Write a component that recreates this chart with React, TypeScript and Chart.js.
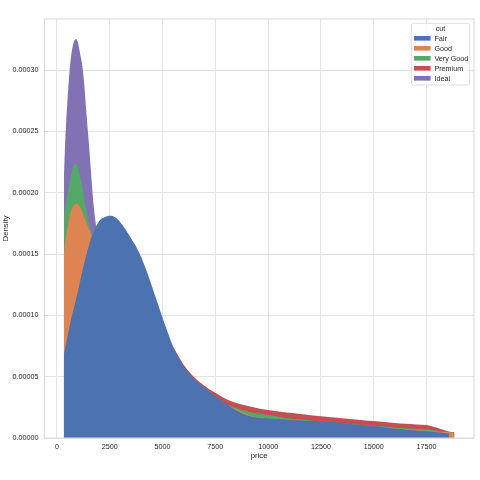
import { useEffect, useRef } from 'react';
import { Chart, registerables } from 'chart.js';

Chart.register(...registerables);

const CUTS = ['Fair', 'Good', 'Very Good', 'Premium', 'Ideal'];
const COLORS = ['#4C72B0', '#DD8452', '#55A868', '#C44E52', '#8172B3'];

// shared price grid (the last value of every series sits at that cut's own max price)
const PRICE = [
  326, 400, 500, 600, 700, 800, 900, 1000, 1100, 1200, 1300, 1400, 1500, 1600, 1700, 1800, 1900, 2000,
  2250, 2500, 2750, 3000, 3250, 3500, 3750, 4000, 4250, 4500, 4750, 5000, 5250, 5500, 5750, 6000,
  6500, 7000, 7500, 8000, 8500, 9000, 9500, 10000, 10500, 11000, 11500, 12000, 12500, 13000, 13500,
  14000, 14500, 15000, 15500, 16000, 16500, 17000, 17500, 18000, 18500,
];
const LAST_PRICE = [18574, 18788, 18818, 18823, 18806];

const FAIR = [
  6.8e-5, 7.4e-5, 8.3e-5, 9.1e-5, 9.9e-5, 1.06e-4, 1.13e-4, 1.2e-4, 1.28e-4, 1.36e-4, 1.43e-4, 1.5e-4, 1.56e-4, 1.62e-4, 1.665e-4, 1.705e-4, 1.74e-4, 1.77e-4,
  1.8e-4, 1.812e-4, 1.8e-4, 1.76e-4, 1.7e-4, 1.63e-4, 1.56e-4, 1.47e-4, 1.36e-4, 1.235e-4, 1.11e-4, 9.8e-5, 8.6e-5, 7.45e-5, 6.6e-5, 5.85e-5,
  4.8e-5, 4.1e-5, 3.42e-5, 2.8e-5, 2.25e-5, 1.85e-5, 1.65e-5, 1.58e-5, 1.52e-5, 1.47e-5, 1.43e-5, 1.4e-5, 1.37e-5, 1.3e-5, 1.22e-5,
  1.13e-5, 1.05e-5, 9.8e-6, 8.8e-6, 7.8e-6, 7.0e-6, 6.2e-6, 5.5e-6, 4.6e-6, 3.6e-6,
  3.4e-6,
];
const GOOD = [
  1.49e-4, 1.6e-4, 1.72e-4, 1.81e-4, 1.87e-4, 1.895e-4, 1.912e-4, 1.905e-4, 1.88e-4, 1.845e-4, 1.8e-4, 1.755e-4, 1.71e-4, 1.67e-4, 1.6e-4, 1.5e-4, 1.42e-4, 1.35e-4,
  1.22e-4, 1.15e-4, 1.1e-4, 1.06e-4, 1.03e-4, 1.0e-4, 9.7e-5, 9.4e-5, 9.2e-5, 9.0e-5, 8.7e-5, 8.3e-5, 7.7e-5, 7.0e-5, 6.2e-5, 5.6e-5,
  4.6e-5, 3.9e-5, 3.3e-5, 2.75e-5, 2.32e-5, 1.92e-5, 1.68e-5, 1.55e-5, 1.48e-5, 1.43e-5, 1.39e-5, 1.36e-5, 1.33e-5, 1.25e-5, 1.18e-5,
  1.1e-5, 1.02e-5, 9.5e-6, 8.6e-6, 7.7e-6, 7.3e-6, 6.6e-6, 5.8e-6, 5.0e-6, 4.6e-6,
  4.5e-6,
];
const VERY_GOOD = [
  1.78e-4, 1.88e-4, 1.99e-4, 2.09e-4, 2.17e-4, 2.225e-4, 2.24e-4, 2.2e-4, 2.13e-4, 2.05e-4, 1.94e-4, 1.84e-4, 1.76e-4, 1.7e-4, 1.64e-4, 1.58e-4, 1.52e-4, 1.45e-4,
  1.3e-4, 1.2e-4, 1.14e-4, 1.1e-4, 1.06e-4, 1.03e-4, 1.0e-4, 9.7e-5, 9.4e-5, 9.1e-5, 8.8e-5, 8.4e-5, 7.8e-5, 7.1e-5, 6.35e-5, 5.7e-5,
  4.7e-5, 4.0e-5, 3.35e-5, 2.78e-5, 2.45e-5, 2.18e-5, 2.0e-5, 1.87e-5, 1.73e-5, 1.62e-5, 1.52e-5, 1.43e-5, 1.36e-5, 1.28e-5, 1.2e-5,
  1.12e-5, 1.05e-5, 1.0e-5, 9.3e-6, 8.6e-6, 8.0e-6, 7.6e-6, 7.2e-6, 6.0e-6, 4.7e-6,
  4.2e-6,
];
const PREMIUM = [
  1.4e-4, 1.5e-4, 1.6e-4, 1.7e-4, 1.78e-4, 1.82e-4, 1.84e-4, 1.82e-4, 1.78e-4, 1.74e-4, 1.7e-4, 1.66e-4, 1.6e-4, 1.56e-4, 1.52e-4, 1.48e-4, 1.45e-4, 1.42e-4,
  1.36e-4, 1.3e-4, 1.25e-4, 1.2e-4, 1.16e-4, 1.12e-4, 1.08e-4, 1.04e-4, 1.0e-4, 9.6e-5, 9.1e-5, 8.6e-5, 8.0e-5, 7.45e-5, 6.68e-5, 5.97e-5,
  4.95e-5, 4.25e-5, 3.68e-5, 3.18e-5, 2.85e-5, 2.62e-5, 2.43e-5, 2.28e-5, 2.17e-5, 2.06e-5, 1.96e-5, 1.86e-5, 1.77e-5, 1.7e-5, 1.62e-5,
  1.53e-5, 1.45e-5, 1.38e-5, 1.3e-5, 1.23e-5, 1.17e-5, 1.11e-5, 1.05e-5, 8.3e-6, 5.6e-6,
  4.6e-6,
];
const IDEAL = [
  2.1e-4, 2.45e-4, 2.76e-4, 3.0e-4, 3.15e-4, 3.23e-4, 3.254e-4, 3.22e-4, 3.13e-4, 3.04e-4, 2.87e-4, 2.64e-4, 2.43e-4, 2.2e-4, 1.97e-4, 1.8e-4, 1.68e-4, 1.6e-4,
  1.48e-4, 1.38e-4, 1.3e-4, 1.22e-4, 1.15e-4, 1.08e-4, 1.02e-4, 9.6e-5, 9.0e-5, 8.4e-5, 7.8e-5, 7.2e-5, 6.6e-5, 6.0e-5, 5.5e-5, 5.0e-5,
  4.2e-5, 3.6e-5, 3.0e-5, 2.5e-5, 2.1e-5, 1.8e-5, 1.6e-5, 1.5e-5, 1.45e-5, 1.4e-5, 1.35e-5, 1.3e-5, 1.25e-5, 1.2e-5, 1.15e-5,
  1.08e-5, 1.0e-5, 9.3e-6, 8.5e-6, 7.6e-6, 6.8e-6, 6.0e-6, 5.3e-6, 4.5e-6, 3.5e-6,
  3.0e-6,
];
const SERIES = [FAIR, GOOD, VERY_GOOD, PREMIUM, IDEAL];

const X_TICKS = [0, 2500, 5000, 7500, 10000, 12500, 15000, 17500];
const Y_TICKS = [0, 0.00005, 0.0001, 0.00015, 0.0002, 0.00025, 0.0003];
const X_MIN = -598.85;
const X_MAX = 19747.85;
const Y_MAX = 0.00034167;

const FONT = "'Liberation Sans', Arial, Helvetica, sans-serif";
const TEXT = '#262626';
const GRID = '#e4e4e4';
const FRAME = '#d8d8d8';

const framePlugin = {
  id: 'frame',
  afterDatasetsDraw(chart: any) {
    const { ctx, chartArea } = chart;
    const { left, top, right, bottom } = chartArea;
    ctx.save();
    ctx.strokeStyle = FRAME;
    ctx.lineWidth = 1;
    ctx.strokeRect(left, top, right - left, bottom - top);
    ctx.restore();
  },
};

const legendPlugin = {
  id: 'cutLegend',
  afterDraw(chart: any) {
    const { ctx, chartArea } = chart;
    const w = 58.3;
    const h = 61.7;
    const x0 = chartArea.right - 4.3 - w;
    const y0 = chartArea.top + 4.3;
    ctx.save();
    ctx.beginPath();
    if (ctx.roundRect) ctx.roundRect(x0, y0, w, h, 2);
    else ctx.rect(x0, y0, w, h);
    ctx.fillStyle = 'rgba(255,255,255,0.8)';
    ctx.fill();
    ctx.strokeStyle = '#d6d6d6';
    ctx.lineWidth = 0.8;
    ctx.stroke();
    ctx.font = `7.2px ${FONT}`;
    ctx.fillStyle = TEXT;
    ctx.textBaseline = 'middle';
    ctx.textAlign = 'center';
    ctx.fillText('cut', x0 + w / 2, y0 + 6);
    ctx.textAlign = 'left';
    CUTS.forEach((name, i) => {
      const cy = y0 + 15 + i * 10;
      ctx.fillStyle = COLORS[i];
      ctx.fillRect(x0 + 2.5, cy - 2.3, 16.7, 4.6);
      ctx.fillStyle = TEXT;
      ctx.fillText(name, x0 + 23, cy + 0.3);
    });
    ctx.restore();
  },
};

export default function App() {
  const ref = useRef<HTMLCanvasElement | null>(null);

  useEffect(() => {
    if (!ref.current) return;
    const datasets = CUTS.map((name, k) => ({
      label: name,
      data: [
        ...PRICE.map((p, i) => ({ x: p, y: SERIES[k][i] })),
        { x: LAST_PRICE[k], y: SERIES[k][PRICE.length] },
      ],
      backgroundColor: COLORS[k],
      borderColor: COLORS[k],
      borderWidth: 0,
      pointRadius: 0,
      fill: 'origin',
      cubicInterpolationMode: 'monotone' as const,
    }));

    const chart = new Chart(ref.current, {
      type: 'line',
      data: { datasets },
      options: {
        animation: false,
        responsive: false,
        events: [],
        layout: { padding: { top: 19, right: 6, bottom: 0, left: 0 } },
        plugins: { legend: { display: false }, tooltip: { enabled: false } },
        scales: {
          x: {
            type: 'linear',
            min: X_MIN,
            max: X_MAX,
            afterBuildTicks: (s: any) => {
              s.ticks = X_TICKS.map((v) => ({ value: v }));
            },
            afterFit: (s: any) => {
              s.height = 42;
            },
            grid: { color: GRID, lineWidth: 1, drawTicks: false },
            border: { display: false },
            ticks: {
              padding: 4.7,
              color: TEXT,
              font: { size: 7.2, family: FONT },
              maxRotation: 0,
              autoSkip: false,
              callback: (v: any) => String(v),
            },
            title: {
              display: true,
              text: 'price',
              color: TEXT,
              font: { size: 7.8, family: FONT },
              padding: { top: 0, bottom: 19.3 },
            },
          },
          y: {
            type: 'linear',
            min: 0,
            max: Y_MAX,
            afterBuildTicks: (s: any) => {
              s.ticks = Y_TICKS.map((v) => ({ value: v }));
            },
            afterFit: (s: any) => {
              s.width = 44.3;
            },
            grid: { color: GRID, lineWidth: 1, drawTicks: false },
            border: { display: false },
            ticks: {
              padding: 5.8,
              color: TEXT,
              font: { size: 7.2, family: FONT },
              autoSkip: false,
              callback: (v: any) => Number(v).toFixed(5),
            },
            title: {
              display: true,
              text: 'Density',
              color: TEXT,
              font: { size: 7.8, family: FONT },
              padding: { top: 1.3, bottom: 0 },
            },
          },
        },
      },
      plugins: [framePlugin, legendPlugin],
    });
    return () => chart.destroy();
  }, []);

  return (
    <div style={{ position: 'absolute', left: 0, top: 0, width: 480, height: 480, background: '#fff' }}>
      <canvas ref={ref} width={480} height={480} style={{ width: 480, height: 480, display: 'block' }} />
    </div>
  );
}
